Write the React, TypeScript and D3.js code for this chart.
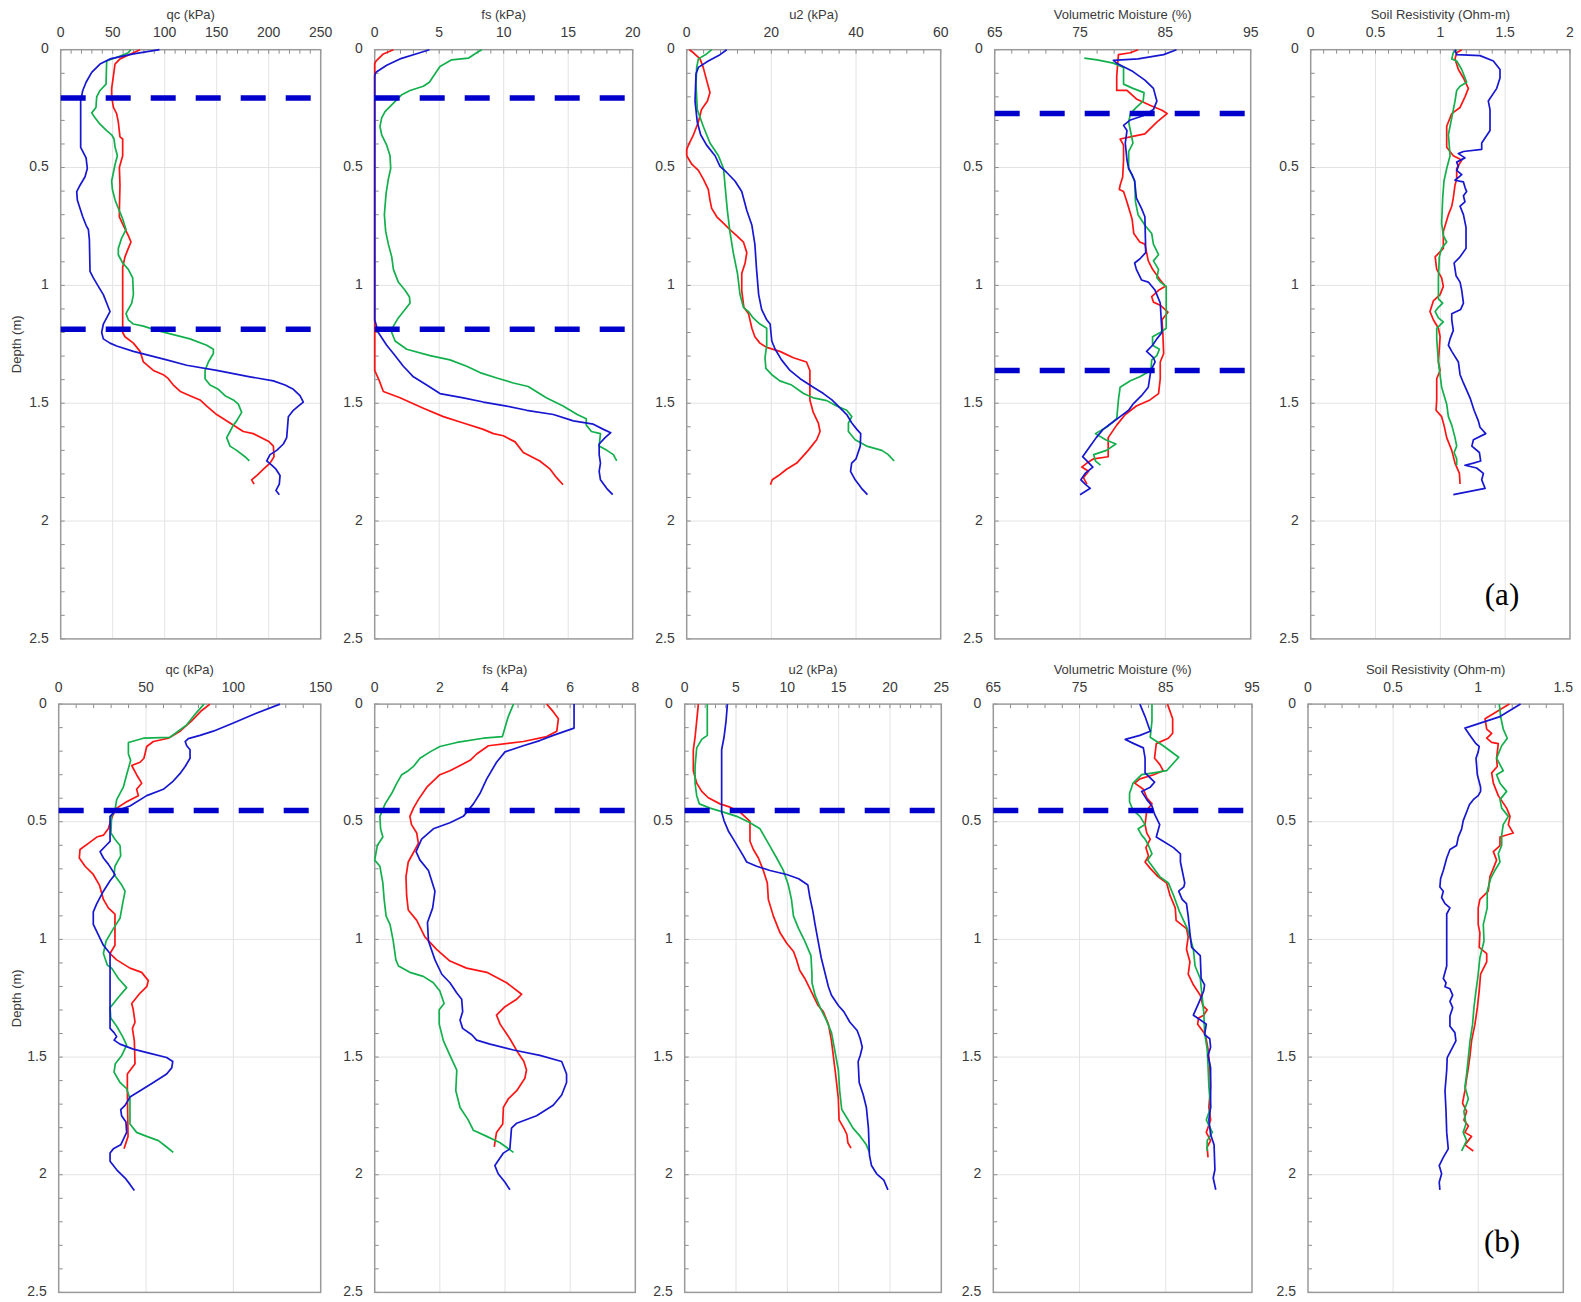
import React from 'react';
import * as d3 from 'd3';

type Pt = [number, number]; // [value, depth (m)]

// ---------- (a) top row ----------
const qcA_blue: Pt[] = [[95,0],[70,0.018],[47.4,0.039],[37.8,0.061],[29.8,0.096],[24.4,0.138],[21.2,0.173],[19.2,0.218],[19.2,0.414],[24.4,0.459],[25.6,0.504],[23.4,0.539],[18.6,0.575],[15.4,0.602],[16,0.638],[17.9,0.664],[21.2,0.709],[24.4,0.745],[26.6,0.763],[27.6,0.807],[28.2,0.941],[31.4,0.968],[36.2,1.004],[41,1.039],[45.8,1.093],[47.4,1.111],[44.2,1.138],[41,1.164],[39.4,1.2],[41,1.227],[47.4,1.245],[53.8,1.257],[69.9,1.28],[85.9,1.298],[101.9,1.316],[121.1,1.339],[150,1.361],[182,1.388],[204.5,1.405],[215.7,1.423],[223.7,1.441],[230.1,1.468],[233.3,1.495],[228.5,1.512],[223.7,1.53],[218.9,1.557],[217.3,1.646],[214.1,1.673],[207.7,1.7],[201.3,1.718],[198.1,1.745],[202.9,1.763],[207,1.78],[210.9,1.807],[210.2,1.843],[207,1.87],[210.2,1.888]];
const qcA_green: Pt[] = [[67.3,0],[65,0.013],[55.4,0.03],[44.2,0.048],[43.6,0.146],[37.8,0.173],[34.6,0.2],[33.9,0.245],[29.8,0.268],[33,0.289],[37.8,0.316],[44.2,0.343],[49,0.361],[51.3,0.379],[52.3,0.414],[54.5,0.45],[52.3,0.486],[50.7,0.521],[49,0.557],[49.7,0.593],[52.3,0.638],[55.4,0.673],[59.6,0.718],[62.8,0.763],[58.7,0.798],[55.4,0.843],[55.4,0.87],[59.6,0.905],[65,0.932],[69.2,0.968],[69.9,1.039],[68.3,1.075],[65,1.102],[62.8,1.12],[65,1.146],[69.9,1.164],[79.5,1.173],[92.3,1.191],[108.3,1.209],[124.3,1.227],[140.4,1.254],[146.8,1.271],[146.8,1.289],[142,1.325],[138.8,1.361],[138.8,1.396],[143.6,1.423],[151.6,1.441],[158,1.468],[166,1.486],[170.8,1.504],[174,1.539],[169.2,1.575],[166,1.593],[162.8,1.62],[159.6,1.646],[162.8,1.682],[169.2,1.7],[177.2,1.727],[181.4,1.745]];
const qcA_red: Pt[] = [[76.3,0],[69.9,0.013],[57,0.039],[52.2,0.061],[50.7,0.111],[49,0.164],[49,0.2],[50.7,0.245],[53.8,0.271],[55.4,0.307],[57,0.37],[59.6,0.379],[59.6,0.45],[56.4,0.5],[57,0.575],[56.4,0.682],[56.4,0.709],[60.2,0.745],[65,0.789],[67.6,0.816],[65,0.843],[61.8,0.879],[59.6,0.923],[59.6,1.039],[59.6,1.2],[61.8,1.218],[69.9,1.245],[76.3,1.28],[79.5,1.325],[89.1,1.361],[98.7,1.379],[103.5,1.396],[108.3,1.423],[115,1.45],[124.3,1.468],[134,1.486],[140.4,1.512],[150,1.548],[162.8,1.584],[175.6,1.62],[185.2,1.629],[199.7,1.661],[204.5,1.682],[205.1,1.727],[201.3,1.754],[194.9,1.78],[188.5,1.807],[183.6,1.825],[185.9,1.843]];

const fsA_blue: Pt[] = [[4.24,0],[3.5,0.013],[1.96,0.039],[0.93,0.066],[0.1,0.096],[0,0.111],[0,1.146],[0.28,1.2],[0.93,1.254],[1.45,1.289],[2.22,1.343],[3,1.388],[4.03,1.423],[5.06,1.459],[6.87,1.477],[8.42,1.495],[10.23,1.512],[11.78,1.53],[13.85,1.548],[15.4,1.575],[16.95,1.589],[17.73,1.611],[18.3,1.625],[17.86,1.646],[17.4,1.673],[17.4,1.718],[17.5,1.754],[17.4,1.789],[17.5,1.825],[17.98,1.861],[18.45,1.888]];
const fsA_green: Pt[] = [[8.3,0],[7.9,0.013],[7.26,0.036],[5.97,0.043],[5.06,0.071],[4.68,0.102],[4.24,0.138],[3.77,0.155],[2.74,0.173],[2.1,0.191],[1.45,0.227],[0.8,0.263],[0.54,0.289],[0.41,0.325],[0.54,0.361],[0.93,0.405],[1.19,0.45],[1.24,0.504],[1.06,0.548],[0.88,0.611],[0.75,0.7],[0.85,0.771],[1.06,0.825],[1.32,0.879],[1.45,0.932],[1.83,0.986],[2.35,1.021],[2.69,1.048],[2.74,1.075],[2.35,1.102],[1.83,1.138],[1.45,1.173],[1.32,1.2],[1.58,1.236],[2.48,1.271],[4.29,1.298],[5.84,1.316],[7.13,1.343],[8.16,1.37],[9.46,1.393],[10.75,1.414],[11.9,1.429],[13.3,1.477],[14.6,1.512],[15.7,1.548],[16.4,1.566],[16.4,1.593],[16.8,1.62],[17.5,1.629],[17.4,1.682],[18,1.7],[18.5,1.718],[18.76,1.745]];
const fsA_red: Pt[] = [[1.45,0],[0.67,0.018],[0.1,0.048],[0,0.06],[0,1.361],[0.36,1.405],[0.67,1.45],[1.96,1.477],[3.77,1.521],[5.32,1.557],[6.87,1.584],[8.42,1.611],[9.2,1.629],[9.97,1.638],[10.88,1.664],[11.52,1.709],[12.8,1.745],[13.6,1.78],[14.1,1.816],[14.6,1.846]];

const u2A_blue: Pt[] = [[9.45,0],[7.87,0.021],[5.1,0.048],[2.76,0.075],[2.2,0.102],[1.97,0.218],[2.5,0.307],[3.3,0.361],[4.7,0.405],[6.7,0.45],[7.87,0.495],[9.45,0.521],[11.4,0.557],[13,0.602],[14.2,0.682],[15.4,0.745],[16.1,0.825],[16.5,0.932],[17,1.039],[17.7,1.102],[18.9,1.146],[19.7,1.164],[20.1,1.236],[20.9,1.271],[22.4,1.316],[24.4,1.361],[26.8,1.396],[29.9,1.432],[32.3,1.459],[34.3,1.486],[35.8,1.512],[37.8,1.548],[39,1.584],[40.2,1.611],[41.1,1.629],[41,1.682],[40,1.736],[38.97,1.754],[38.7,1.789],[39.8,1.825],[41.3,1.861],[42.7,1.888]];
const u2A_green: Pt[] = [[5.9,0],[4.7,0.018],[2.76,0.039],[2.36,0.075],[2.2,0.146],[2.5,0.254],[3.9,0.325],[5.5,0.396],[7.5,0.45],[8.7,0.504],[9.05,0.575],[9.6,0.682],[10.2,0.771],[11,0.861],[12,0.95],[12.6,1.039],[13.4,1.093],[14.6,1.111],[15.7,1.138],[17.3,1.164],[18.9,1.182],[18.9,1.254],[18.5,1.307],[18.7,1.352],[20.1,1.379],[22,1.405],[24.8,1.423],[27.6,1.459],[29.9,1.477],[33.1,1.489],[35.4,1.512],[37.8,1.53],[39,1.557],[38.2,1.584],[38.2,1.62],[39.8,1.655],[42.5,1.682],[46.1,1.7],[47.6,1.718],[49,1.745]];
const u2A_red: Pt[] = [[0.63,0],[1.6,0.013],[3.15,0.039],[3.9,0.075],[4.7,0.129],[5.5,0.182],[4.9,0.218],[3.5,0.254],[2.76,0.307],[1.6,0.361],[0.63,0.396],[0,0.423],[0,0.45],[1.2,0.486],[2.76,0.512],[3.9,0.548],[5.1,0.593],[5.5,0.638],[5.9,0.673],[7.1,0.709],[8.66,0.736],[10.2,0.763],[11.8,0.789],[13.4,0.816],[14.2,0.861],[13.8,0.905],[13,0.95],[13,1.021],[13.5,1.093],[14.6,1.12],[15.4,1.182],[16.1,1.218],[17.3,1.245],[18.9,1.263],[22,1.28],[25.2,1.307],[28.3,1.325],[29.1,1.361],[29.1,1.432],[29.1,1.486],[29.9,1.539],[31.1,1.584],[31.5,1.62],[30.7,1.655],[28.7,1.7],[26,1.754],[23.6,1.78],[21.7,1.807],[20.2,1.825],[19.8,1.846]];

const vmA_blue: Pt[] = [[86.3,0],[84.8,0.021],[81.8,0.039],[78.9,0.045],[79.3,0.057],[81.2,0.093],[82.6,0.129],[83.6,0.164],[84,0.218],[83.6,0.254],[82.4,0.28],[80.9,0.298],[80.1,0.321],[80.5,0.343],[80.3,0.396],[80.5,0.468],[80.7,0.504],[81.1,0.53],[81.4,0.557],[81.6,0.629],[82.2,0.673],[82.6,0.709],[82.7,0.861],[82,0.888],[81.4,0.905],[81.6,0.932],[82.2,0.977],[83,0.986],[83.8,1.021],[84.4,1.075],[84.6,1.2],[84,1.227],[83.5,1.254],[82.8,1.28],[83.6,1.307],[83.8,1.325],[83.3,1.361],[83,1.432],[82.2,1.468],[81.2,1.504],[80.7,1.53],[79.7,1.557],[78.7,1.584],[77.7,1.611],[76.9,1.646],[76.2,1.682],[75.3,1.727],[75.8,1.745],[76.5,1.771],[75.6,1.798],[75.1,1.825],[75.6,1.843],[76.2,1.861],[75,1.888]];
const vmA_green: Pt[] = [[75.5,0.036],[77,0.043],[78.9,0.057],[80.1,0.075],[80.1,0.146],[81.2,0.164],[82.5,0.182],[82.4,0.218],[81.6,0.245],[80.9,0.271],[80.7,0.307],[80.9,0.343],[81.2,0.396],[80.7,0.432],[80.7,0.504],[81.4,0.557],[81.5,0.646],[81.8,0.7],[82.6,0.745],[83.4,0.78],[83.6,0.825],[84.2,0.87],[83.6,0.896],[84.2,0.932],[84,0.968],[84.4,0.986],[85.1,1.004],[85.1,1.182],[84.4,1.2],[83.5,1.218],[83.5,1.254],[84.3,1.271],[84,1.298],[83.4,1.316],[83.3,1.361],[82,1.388],[80.9,1.405],[79.7,1.432],[79.5,1.486],[79.3,1.566],[78.1,1.602],[76.8,1.629],[78,1.655],[79.2,1.673],[78.1,1.7],[76.6,1.718],[76.8,1.745],[77.4,1.763]];
const vmA_red: Pt[] = [[81.8,0],[80.9,0.013],[79.5,0.021],[79.3,0.111],[79.3,0.173],[80.5,0.173],[81.6,0.209],[83.2,0.236],[84.6,0.257],[85.2,0.271],[84,0.307],[82.6,0.357],[80.9,0.37],[79.7,0.379],[80.1,0.405],[80.1,0.468],[80,0.539],[79.7,0.575],[79.6,0.593],[80.1,0.602],[80.5,0.646],[81.1,0.718],[81.3,0.78],[82,0.816],[82.6,0.825],[83,0.896],[83.5,0.932],[84.4,0.977],[85,1.004],[84.2,1.021],[83.4,1.048],[83.6,1.071],[84.4,1.084],[85.3,1.114],[84.6,1.146],[84.7,1.2],[84.8,1.289],[84.4,1.325],[84.4,1.396],[84.2,1.459],[83.2,1.486],[81.6,1.512],[80.3,1.548],[79.3,1.593],[78.3,1.646],[78.3,1.727],[76.6,1.736],[75.8,1.754],[75.2,1.771],[76,1.789],[75.4,1.816],[75.8,1.843]];

const rsA_blue: Pt[] = [[1.113,0],[1.126,0.021],[1.306,0.025],[1.409,0.048],[1.46,0.084],[1.46,0.12],[1.435,0.164],[1.37,0.218],[1.383,0.254],[1.383,0.343],[1.319,0.396],[1.319,0.423],[1.178,0.432],[1.139,0.441],[1.19,0.459],[1.126,0.477],[1.139,0.495],[1.126,0.512],[1.165,0.53],[1.113,0.554],[1.178,0.561],[1.19,0.584],[1.203,0.602],[1.178,0.62],[1.19,0.646],[1.152,0.664],[1.178,0.7],[1.198,0.754],[1.198,0.843],[1.152,0.879],[1.106,0.905],[1.121,0.959],[1.152,0.986],[1.165,1.021],[1.178,1.075],[1.157,1.102],[1.088,1.12],[1.088,1.146],[1.1,1.191],[1.075,1.227],[1.062,1.254],[1.088,1.28],[1.139,1.325],[1.152,1.379],[1.178,1.414],[1.229,1.477],[1.26,1.53],[1.293,1.575],[1.306,1.602],[1.35,1.629],[1.255,1.655],[1.243,1.682],[1.301,1.709],[1.311,1.745],[1.255,1.754],[1.19,1.763],[1.28,1.775],[1.332,1.798],[1.319,1.825],[1.345,1.861],[1.1,1.888]];
const rsA_green: Pt[] = [[1.126,0],[1.1,0.013],[1.088,0.039],[1.126,0.048],[1.165,0.084],[1.203,0.138],[1.152,0.155],[1.126,0.173],[1.113,0.218],[1.088,0.289],[1.062,0.361],[1.075,0.45],[1.049,0.504],[1.028,0.557],[1.018,0.629],[1.01,0.736],[1.023,0.789],[1.049,0.816],[1.01,0.843],[0.992,0.879],[0.985,0.968],[0.985,1.057],[1.018,1.075],[0.985,1.093],[0.96,1.111],[0.985,1.138],[1.023,1.155],[0.972,1.182],[0.972,1.227],[0.985,1.325],[1.01,1.432],[1.049,1.504],[1.062,1.557],[1.088,1.593],[1.113,1.646],[1.126,1.682],[1.106,1.709],[1.126,1.736],[1.126,1.763]];
const rsA_red: Pt[] = [[1.165,0],[1.126,0.013],[1.113,0.039],[1.139,0.084],[1.178,0.12],[1.216,0.164],[1.19,0.2],[1.152,0.245],[1.088,0.271],[1.049,0.325],[1.049,0.414],[1.1,0.45],[1.165,0.468],[1.126,0.504],[1.126,0.548],[1.113,0.575],[1.1,0.629],[1.088,0.664],[1.062,0.7],[1.023,0.771],[1.023,0.843],[0.96,0.879],[0.972,0.932],[1.01,0.968],[1.023,1.004],[0.998,1.039],[0.946,1.066],[0.92,1.111],[0.946,1.146],[0.985,1.182],[0.998,1.218],[0.985,1.325],[0.998,1.361],[0.972,1.396],[0.972,1.486],[0.967,1.53],[1.01,1.557],[1.028,1.593],[1.049,1.646],[1.088,1.7],[1.113,1.754],[1.147,1.798],[1.152,1.843]];

// ---------- (b) bottom row ----------
const qcB_blue: Pt[] = [[126.7,0],[111.4,0.044],[100,0.08],[88.5,0.115],[80.9,0.133],[74.2,0.147],[72.4,0.159],[73.3,0.177],[75.2,0.194],[75.2,0.23],[72.4,0.265],[69.8,0.292],[65.6,0.327],[59.9,0.362],[50.4,0.389],[40.8,0.433],[32.2,0.456],[29.4,0.477],[29.4,0.583],[27.1,0.601],[23.7,0.627],[25.6,0.654],[28.4,0.68],[32.2,0.724],[29.4,0.751],[25.6,0.795],[21.8,0.848],[19.8,0.883],[19.8,0.936],[22.7,0.981],[25.6,1.025],[29.4,1.06],[29.4,1.378],[31.7,1.396],[33.2,1.413],[31.7,1.428],[35.1,1.445],[42.7,1.466],[52.3,1.484],[61.8,1.502],[65.3,1.519],[64.7,1.546],[61.8,1.572],[54.2,1.608],[46.6,1.643],[40.8,1.67],[38,1.705],[35.5,1.723],[36,1.749],[38.5,1.776],[38.9,1.82],[35.5,1.873],[31.3,1.89],[29.4,1.908],[29.4,1.943],[33.2,1.979],[38,2.014],[40.8,2.041],[43.3,2.067]];
const qcB_green: Pt[] = [[83.2,0],[79,0.035],[73.3,0.088],[63.7,0.141],[48.5,0.145],[39.9,0.163],[39.9,0.212],[41.2,0.239],[38.9,0.3],[37,0.353],[33.2,0.406],[32.2,0.451],[30.3,0.477],[29.9,0.548],[32.2,0.574],[35.1,0.601],[35.5,0.645],[32.2,0.689],[31.7,0.724],[36.1,0.769],[38,0.795],[36.6,0.848],[35.1,0.91],[31.3,0.954],[27.1,1.007],[25.6,1.06],[27.9,1.11],[30.3,1.122],[34.2,1.166],[38.9,1.205],[34.2,1.246],[29.4,1.29],[29.8,1.334],[33.2,1.369],[36.6,1.413],[38.9,1.449],[36.1,1.493],[32.4,1.528],[31.7,1.564],[35.1,1.608],[38.9,1.634],[40.8,1.678],[40.8,1.784],[44.6,1.82],[50.4,1.837],[57.1,1.855],[61.8,1.882],[65.6,1.905]];
const qcB_red: Pt[] = [[86.6,0],[81.9,0.027],[76.1,0.071],[69.5,0.115],[62.8,0.145],[54.2,0.159],[50.4,0.18],[48.8,0.23],[46.6,0.247],[41.8,0.261],[44.6,0.3],[47.5,0.336],[44.6,0.362],[45.6,0.389],[38.9,0.415],[33.2,0.442],[31.3,0.468],[29.8,0.495],[28.4,0.53],[25.6,0.557],[21.8,0.565],[17,0.592],[12.2,0.618],[11.8,0.654],[15.1,0.689],[19.8,0.724],[23.3,0.769],[25.6,0.83],[28.4,0.866],[32.2,0.892],[32.2,1.025],[29.4,1.06],[33.2,1.087],[40.8,1.122],[47.5,1.14],[51.3,1.175],[50.4,1.201],[46.6,1.228],[41.8,1.272],[42.7,1.299],[43.7,1.352],[42.2,1.378],[43.3,1.431],[43.7,1.528],[39.3,1.572],[39.3,1.643],[39.7,1.837],[37.4,1.89]];

const fsB_blue: Pt[] = [[6.12,0],[6.12,0.102],[5.48,0.133],[5.07,0.155],[4.56,0.177],[4,0.203],[3.74,0.247],[3.44,0.318],[3.23,0.38],[3.03,0.424],[2.72,0.477],[2.31,0.504],[1.8,0.53],[1.44,0.574],[1.27,0.627],[1.39,0.663],[1.65,0.707],[1.85,0.795],[1.78,0.866],[1.62,0.928],[1.65,1.007],[1.85,1.087],[2.06,1.148],[2.31,1.184],[2.52,1.228],[2.67,1.254],[2.7,1.307],[2.62,1.343],[2.7,1.378],[2.98,1.405],[3.13,1.428],[3.54,1.445],[4.26,1.47],[5.07,1.493],[5.74,1.519],[5.89,1.572],[5.89,1.608],[5.74,1.661],[5.48,1.705],[4.97,1.749],[4.36,1.781],[4.2,1.802],[4.15,1.89],[3.95,1.908],[3.69,1.961],[3.79,1.996],[4,2.032],[4.15,2.064]];
const fsB_green: Pt[] = [[4.26,0],[4.1,0.053],[3.92,0.138],[3.33,0.145],[2.52,0.163],[2,0.18],[1.7,0.203],[1.39,0.23],[1.19,0.265],[1.03,0.283],[0.83,0.3],[0.68,0.336],[0.52,0.38],[0.32,0.424],[0.16,0.477],[0.18,0.53],[0.25,0.565],[0.08,0.601],[0,0.663],[0.16,0.689],[0.25,0.76],[0.29,0.83],[0.35,0.901],[0.47,0.936],[0.57,1.007],[0.65,1.087],[0.73,1.113],[1.08,1.14],[1.49,1.157],[1.8,1.184],[2,1.219],[2.13,1.272],[1.98,1.299],[1.98,1.36],[2.11,1.431],[2.31,1.493],[2.52,1.555],[2.49,1.643],[2.62,1.714],[2.87,1.767],[3.03,1.811],[3.44,1.837],[3.85,1.864],[4.26,1.905]];
const fsB_red: Pt[] = [[5.28,0],[5.48,0.032],[5.64,0.062],[5.59,0.115],[5.28,0.138],[4.56,0.159],[3.49,0.177],[3.13,0.212],[2.93,0.239],[2.31,0.283],[2,0.3],[1.6,0.353],[1.34,0.406],[1.19,0.442],[1.08,0.477],[1.13,0.512],[1.29,0.548],[1.34,0.592],[1.17,0.636],[1.03,0.671],[0.96,0.733],[0.98,0.813],[1.03,0.875],[1.29,0.919],[1.54,0.989],[1.9,1.042],[2.31,1.092],[2.82,1.122],[3.44,1.14],[4.05,1.184],[4.51,1.233],[4.36,1.254],[4,1.286],[3.74,1.322],[3.85,1.36],[4.15,1.422],[4.41,1.484],[4.58,1.519],[4.66,1.555],[4.61,1.59],[4.36,1.643],[4.1,1.678],[3.95,1.714],[3.93,1.784],[3.74,1.82],[3.69,1.864],[3.67,1.882]];

const u2B_blue: Pt[] = [[4.16,0],[4.03,0.071],[3.83,0.141],[3.6,0.194],[3.6,0.371],[3.6,0.459],[3.83,0.495],[4.25,0.539],[4.74,0.574],[5.23,0.61],[5.71,0.645],[6.04,0.671],[7.01,0.689],[8.31,0.707],[9.94,0.724],[11.1,0.742],[12,0.769],[12.2,0.822],[12.5,0.883],[12.7,0.936],[13,1.007],[13.3,1.078],[13.7,1.148],[14,1.201],[14.3,1.237],[14.97,1.281],[15.5,1.307],[16.1,1.352],[16.8,1.387],[17.1,1.422],[17.3,1.458],[17.1,1.493],[16.9,1.519],[17,1.608],[17.4,1.661],[17.7,1.714],[17.9,1.802],[18,1.917],[18.2,1.961],[18.7,1.996],[19.4,2.023],[19.8,2.064]];
const u2B_green: Pt[] = [[2.2,0],[2.2,0.133],[1.66,0.15],[1.17,0.186],[1.01,0.265],[1.01,0.336],[1.17,0.389],[1.43,0.424],[2.47,0.442],[3.77,0.459],[5.07,0.477],[6.36,0.504],[7.34,0.53],[8.15,0.592],[8.96,0.654],[9.61,0.707],[10.1,0.769],[10.4,0.83],[10.6,0.901],[11.1,0.954],[11.7,1.007],[12.3,1.069],[12.4,1.148],[12.4,1.184],[12.7,1.237],[13.2,1.29],[13.8,1.343],[14.3,1.396],[14.6,1.466],[14.97,1.555],[15.1,1.643],[15.3,1.723],[15.8,1.758],[16.4,1.802],[17.1,1.837],[17.7,1.873],[18,1.905]];
const u2B_red: Pt[] = [[1.33,0],[1.17,0.071],[1.01,0.141],[0.84,0.194],[0.84,0.283],[1.17,0.336],[1.66,0.371],[2.3,0.398],[3.44,0.424],[4.42,0.438],[5.39,0.459],[6.36,0.498],[6.36,0.583],[6.69,0.618],[7.18,0.654],[7.66,0.707],[8.05,0.76],[8.15,0.83],[8.64,0.901],[9.29,0.972],[9.94,1.016],[10.6,1.051],[10.9,1.087],[11.2,1.131],[11.7,1.166],[12.1,1.201],[12.5,1.237],[13,1.281],[13.5,1.307],[14,1.36],[14.3,1.431],[14.5,1.502],[14.7,1.572],[14.97,1.678],[15.04,1.767],[15.5,1.802],[15.8,1.829],[15.9,1.864],[16.2,1.887]];

const vmB_blue: Pt[] = [[82,0],[82.6,0.053],[83.2,0.115],[82,0.133],[80.3,0.15],[81.3,0.168],[82.4,0.186],[82.6,0.23],[82.6,0.292],[83.7,0.332],[83.2,0.353],[82.2,0.371],[82.8,0.406],[83.4,0.433],[83.7,0.468],[84.3,0.512],[83.9,0.565],[84.7,0.583],[85.9,0.61],[86.7,0.636],[86.7,0.671],[87,0.724],[87.2,0.76],[87.1,0.777],[86.5,0.795],[86.9,0.83],[87.4,0.848],[87.6,0.901],[87.8,0.972],[88,1.034],[89,1.069],[89.1,1.166],[89.5,1.193],[89.4,1.219],[88.9,1.263],[88.2,1.322],[88.9,1.339],[89.7,1.36],[89.5,1.405],[90.1,1.422],[90.2,1.458],[89.9,1.493],[90.2,1.546],[90.2,1.714],[90,1.767],[90.2,1.829],[90.6,1.873],[90.7,1.979],[90.5,2.014],[90.8,2.064]];
const vmB_green: Pt[] = [[83.4,0],[83.4,0.071],[83.2,0.141],[84.7,0.177],[86.5,0.226],[85.1,0.283],[83.6,0.292],[82.2,0.3],[81.2,0.336],[80.8,0.38],[80.8,0.415],[81.2,0.451],[82,0.477],[82.6,0.512],[81.8,0.53],[82.2,0.557],[82.6,0.574],[83,0.601],[83.4,0.636],[82.9,0.663],[83.6,0.698],[84.3,0.733],[85.3,0.76],[85.9,0.813],[86.6,0.883],[87.5,0.954],[87.8,0.989],[88.2,1.042],[88.4,1.113],[89,1.166],[89.2,1.237],[89.4,1.307],[89.5,1.396],[89.8,1.466],[89.9,1.537],[90,1.625],[90.2,1.714],[89.7,1.767],[90.4,1.82],[89.8,1.855],[89.8,1.899]];
const vmB_red: Pt[] = [[85.2,0],[85.8,0.062],[85.8,0.124],[85.3,0.145],[83.9,0.168],[83.7,0.23],[84.3,0.256],[84.7,0.283],[83.6,0.3],[82,0.318],[81.4,0.336],[82.4,0.362],[82.8,0.398],[83.4,0.424],[82.8,0.451],[82.6,0.512],[82.8,0.548],[83.2,0.574],[82.7,0.61],[83,0.645],[82.6,0.671],[83.2,0.698],[84.1,0.733],[85.1,0.76],[85.5,0.813],[86.1,0.866],[86.2,0.919],[87.4,0.954],[87.6,0.989],[87.4,1.042],[87.8,1.095],[87.6,1.148],[88.2,1.193],[89,1.237],[89.3,1.281],[89.8,1.299],[89.4,1.322],[88.8,1.334],[88.7,1.36],[89.6,1.405],[89.9,1.466],[90.1,1.537],[90.2,1.625],[90,1.714],[90.2,1.767],[89.7,1.82],[90.2,1.855],[89.8,1.882],[89.9,1.926]];

const rsB_blue: Pt[] = [[1.249,0],[1.128,0.053],[0.922,0.102],[0.952,0.133],[0.987,0.168],[1.006,0.18],[1,0.203],[0.987,0.23],[0.995,0.3],[1.014,0.353],[1.014,0.371],[1,0.389],[0.971,0.406],[0.948,0.428],[0.936,0.451],[0.912,0.495],[0.903,0.53],[0.883,0.565],[0.873,0.601],[0.834,0.618],[0.815,0.654],[0.795,0.707],[0.779,0.742],[0.775,0.777],[0.795,0.795],[0.785,0.822],[0.805,0.848],[0.834,0.866],[0.815,0.892],[0.815,0.972],[0.815,1.113],[0.795,1.166],[0.811,1.184],[0.805,1.201],[0.834,1.21],[0.85,1.237],[0.834,1.263],[0.85,1.29],[0.834,1.325],[0.834,1.369],[0.863,1.396],[0.869,1.431],[0.844,1.466],[0.818,1.502],[0.815,1.555],[0.805,1.643],[0.811,1.731],[0.815,1.82],[0.824,1.89],[0.795,1.926],[0.771,1.961],[0.785,1.996],[0.771,2.032],[0.775,2.064]];
const rsB_green: Pt[] = [[1.124,0],[1.132,0.053],[1.147,0.106],[1.171,0.145],[1.138,0.177],[1.108,0.23],[1.147,0.283],[1.108,0.3],[1.128,0.336],[1.167,0.371],[1.128,0.406],[1.138,0.442],[1.177,0.477],[1.147,0.512],[1.138,0.557],[1.138,0.601],[1.118,0.636],[1.128,0.671],[1.098,0.707],[1.073,0.742],[1.053,0.795],[1.053,0.866],[1.03,0.936],[1.034,1.007],[1.01,1.078],[1,1.148],[0.987,1.219],[0.975,1.29],[0.967,1.36],[0.952,1.431],[0.942,1.502],[0.932,1.572],[0.922,1.625],[0.942,1.678],[0.916,1.731],[0.928,1.784],[0.912,1.82],[0.932,1.855],[0.903,1.899]];
const rsB_red: Pt[] = [[1.183,0],[1.04,0.062],[1.05,0.106],[1.079,0.124],[1.05,0.145],[1.079,0.163],[1.118,0.168],[1.108,0.23],[1.112,0.265],[1.079,0.292],[1.089,0.336],[1.118,0.389],[1.167,0.442],[1.187,0.477],[1.177,0.512],[1.206,0.548],[1.128,0.565],[1.128,0.601],[1.089,0.627],[1.108,0.663],[1.089,0.698],[1.069,0.733],[1.059,0.795],[1.01,0.83],[1,0.866],[1,0.936],[1.01,0.972],[1.006,1.034],[1.05,1.06],[1.05,1.095],[1.014,1.148],[1.006,1.219],[0.995,1.29],[0.981,1.36],[0.961,1.431],[0.952,1.493],[0.942,1.546],[0.932,1.59],[0.922,1.643],[0.908,1.696],[0.932,1.731],[0.916,1.767],[0.942,1.793],[0.922,1.82],[0.961,1.837],[0.922,1.873],[0.971,1.899]];

// boundary depths (dashed lines)
const dashA_qc = [0.205, 1.186];
const dashA_vm = [0.271, 1.361];
const dashB = [0.452];

// blue, green, red
const COLORS = ['#1717d2', '#12b04c', '#ff1414'];
const FONT = '"Liberation Sans", Arial, sans-serif';

interface PanelDef {
  title: string;
  domain: [number, number];
  major: number;
  minor: number;
  series: Pt[][];
  dashes: number[];
}

const rowA: PanelDef[] = [
  { title: 'qc (kPa)', domain: [0, 250], major: 50, minor: 10, series: [qcA_blue, qcA_green, qcA_red], dashes: dashA_qc },
  { title: 'fs (kPa)', domain: [0, 20], major: 5, minor: 1, series: [fsA_blue, fsA_green, fsA_red], dashes: dashA_qc },
  { title: 'u2 (kPa)', domain: [0, 60], major: 20, minor: 4, series: [u2A_blue, u2A_green, u2A_red], dashes: [] },
  { title: 'Volumetric Moisture (%)', domain: [65, 95], major: 10, minor: 2, series: [vmA_blue, vmA_green, vmA_red], dashes: dashA_vm },
  { title: 'Soil Resistivity (Ohm-m)', domain: [0, 2], major: 0.5, minor: 0.1, series: [rsA_blue, rsA_green, rsA_red], dashes: [] },
];
const rowB: PanelDef[] = [
  { title: 'qc (kPa)', domain: [0, 150], major: 50, minor: 10, series: [qcB_blue, qcB_green, qcB_red], dashes: dashB },
  { title: 'fs (kPa)', domain: [0, 8], major: 2, minor: 0.4, series: [fsB_blue, fsB_green, fsB_red], dashes: dashB },
  { title: 'u2 (kPa)', domain: [0, 25], major: 5, minor: 1, series: [u2B_blue, u2B_green, u2B_red], dashes: dashB },
  { title: 'Volumetric Moisture (%)', domain: [65, 95], major: 10, minor: 2, series: [vmB_blue, vmB_green, vmB_red], dashes: dashB },
  { title: 'Soil Resistivity (Ohm-m)', domain: [0, 1.5], major: 0.5, minor: 0.1, series: [rsB_blue, rsB_green, rsB_red], dashes: [] },
];

// layout (pixels)
const ROWS = [
  { top: 49.7, bottom: 638.9, cols: [[60.7, 320.7], [374.7, 632.7], [686.7, 940.7], [994.7, 1250.7], [1310.7, 1570]], tag: '(a)', tagY: 598 },
  { top: 704.1, bottom: 1292.4, cols: [[58.7, 320.7], [374.7, 635.3], [684.7, 941.3], [993.3, 1252], [1308, 1563.3]], tag: '(b)', tagY: 1245 },
];

const fmt = (v: number) => String(+v.toFixed(2));

function Panel({ p, x0, x1, y0, y1, depthLabel }: { p: PanelDef; x0: number; x1: number; y0: number; y1: number; depthLabel: boolean }) {
  const x = d3.scaleLinear().domain(p.domain).range([x0, x1]);
  const y = d3.scaleLinear().domain([0, 2.5]).range([y0, y1]);
  const xMaj = d3.range(p.domain[0], p.domain[1] + p.major / 2, p.major);
  const xMin = d3.range(p.domain[0], p.domain[1] + p.minor / 2, p.minor);
  const yMaj = d3.range(0, 2.75, 0.5);
  const yMin = d3.range(0, 2.55, 0.1);
  const line = d3.line<Pt>().x(d => x(d[0])).y(d => y(d[1]));
  // draw red first so blue ends up on top
  const order = [2, 1, 0];

  return (
    <g>
      {xMaj.slice(1, -1).map(v => (
        <line key={'gx' + v} x1={x(v)} x2={x(v)} y1={y0} y2={y1} stroke="#e3e3e3" strokeWidth={1} />
      ))}
      {yMaj.slice(1, -1).map(v => (
        <line key={'gy' + v} x1={x0} x2={x1} y1={y(v)} y2={y(v)} stroke="#e3e3e3" strokeWidth={1} />
      ))}
      {xMin.map(v => (
        <line key={'tx' + v} x1={x(v)} x2={x(v)} y1={y0} y2={y0 + 4} stroke="#8c8c8c" strokeWidth={1} />
      ))}
      {yMin.map(v => (
        <line key={'ty' + v} x1={x0} x2={x0 + 4} y1={y(v)} y2={y(v)} stroke="#8c8c8c" strokeWidth={1} />
      ))}
      <rect x={x0} y={y0} width={x1 - x0} height={y1 - y0} fill="none" stroke="#9a9a9a" strokeWidth={1.5} />
      {xMaj.map(v => (
        <text key={'lx' + v} x={x(v)} y={y0 - 16} textAnchor="middle" dominantBaseline="middle" fontSize={14} fill="#3a3a3a" fontFamily={FONT}>{fmt(v)}</text>
      ))}
      {yMaj.map(v => (
        <text key={'ly' + v} x={x0 - 12} y={y(v)} textAnchor="end" dominantBaseline="middle" fontSize={14} fill="#3a3a3a" fontFamily={FONT}>{fmt(v)}</text>
      ))}
      <text x={(x0 + x1) / 2} y={y0 - 34} textAnchor="middle" dominantBaseline="middle" fontSize={13} fill="#3a3a3a" fontFamily={FONT}>{p.title}</text>
      {depthLabel && (
        <text transform={`translate(18,${(y0 + y1) / 2}) rotate(-90)`} textAnchor="middle" dominantBaseline="middle" fontSize={13} fill="#3a3a3a" fontFamily={FONT}>Depth (m)</text>
      )}
      {order.map(i => (
        <path key={'s' + i} d={line(p.series[i]) || ''} fill="none" stroke={COLORS[i]} strokeWidth={1.7} strokeLinejoin="round" />
      ))}
      {p.dashes.map(dp => (
        <line key={'d' + dp} x1={x0} x2={x1} y1={y(dp)} y2={y(dp)} stroke="#0000cc" strokeWidth={5.5} strokeDasharray="25 20" />
      ))}
    </g>
  );
}

export default function App() {
  const rowsData = [rowA, rowB];
  return (
    <svg width={1581} height={1302} style={{ position: 'absolute', left: 0, top: 0, background: '#fff' }}>
      <rect x={0} y={0} width={1581} height={1302} fill="#fff" />
      {ROWS.map((r, ri) => (
        <g key={ri}>
          {rowsData[ri].map((p, ci) => (
            <Panel key={ci} p={p} x0={r.cols[ci][0]} x1={r.cols[ci][1]} y0={r.top} y1={r.bottom} depthLabel={ci === 0} />
          ))}
          <text x={1502} y={r.tagY} textAnchor="middle" dominantBaseline="middle" fontSize={31} fill="#000" fontFamily='"Liberation Serif", "Times New Roman", serif'>{r.tag}</text>
        </g>
      ))}
    </svg>
  );
}
